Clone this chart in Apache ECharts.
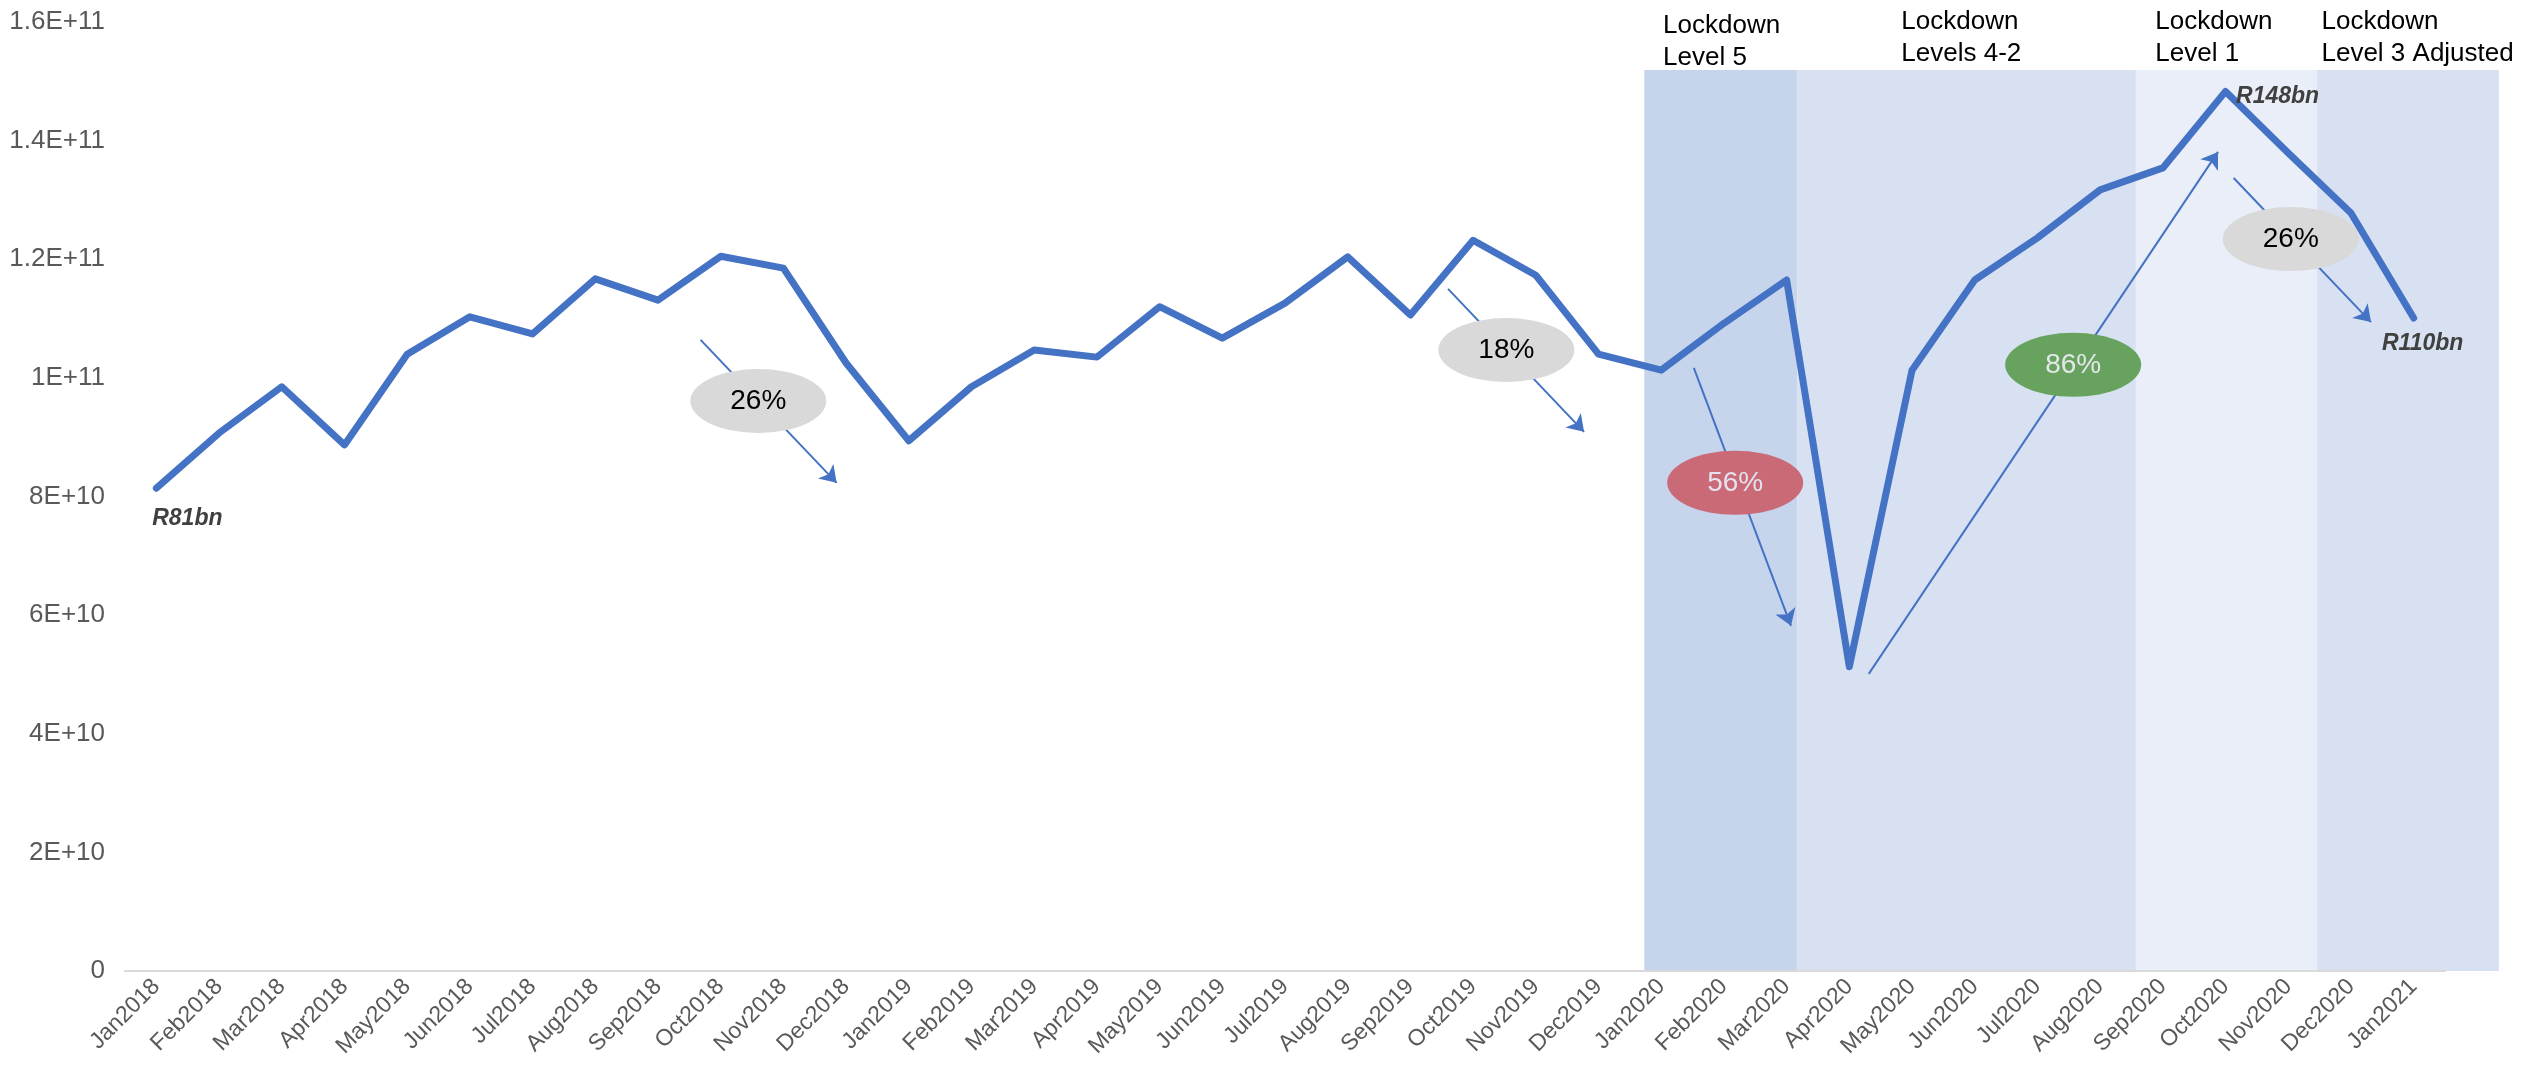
<!DOCTYPE html>
<html><head><meta charset="utf-8">
<script src="https://cdn.jsdelivr.net/npm/echarts@6/dist/echarts.min.js"></script>
<style>html,body{margin:0;padding:0;background:#fff}#c{width:2522px;height:1071px}</style>
</head><body><div id="c"></div>
<script>
// ---- data ----
const months = ['Jan2018','Feb2018','Mar2018','Apr2018','May2018','Jun2018','Jul2018','Aug2018','Sep2018','Oct2018','Nov2018','Dec2018',
  'Jan2019','Feb2019','Mar2019','Apr2019','May2019','Jun2019','Jul2019','Aug2019','Sep2019','Oct2019','Nov2019','Dec2019',
  'Jan2020','Feb2020','Mar2020','Apr2020','May2020','Jun2020','Jul2020','Aug2020','Sep2020','Oct2020','Nov2020','Dec2020','Jan2021'];
// values in billions of Rand
const valuesBn = [81.4,90.7,98.5,88.7,104.0,110.3,107.4,116.7,113.1,120.5,118.5,102.5,
  89.4,98.5,104.7,103.5,112.0,106.7,112.6,120.4,110.6,123.2,117.3,104.0,
  101.3,109.2,116.5,51.3,101.3,116.5,123.6,131.7,135.4,148.3,137.9,127.8,110.1];
const yMax = 160e9, yStep = 20e9;
const labelledIdx = [0, 33, 36];

// lockdown phases (edges in month-index units)
const phaseNames = ['Lockdown\nLevel 5','Lockdown\nLevels 4-2','Lockdown\nLevel 1','Lockdown\nLevel 3 Adjusted'];
const phaseEdges = [23.73, 26.17, 31.57, 34.46, 37.36];
const phaseTopBn = 151.9;
const phaseLabelU = [24.03, 27.83, 31.88, 34.53];
const phaseLabelBn = [162.0, 162.8, 162.8, 162.8];

// change call-outs
const calloutText = ['26%','18%','56%','86%','26%'];
const calloutU = [9.60, 21.53, 25.18, 30.57, 34.04];
const calloutBn = [96.1, 104.7, 82.3, 102.2, 123.4];
const arrowFrom = [[8.68,106.4],[20.60,115.0],[24.52,101.7],[27.31,50.1],[33.13,133.7]];
const arrowTo = [[10.85,82.3],[22.77,90.9],[26.07,58.2],[32.88,138.1],[35.32,109.4]];

// ---- styles ----
const FONT = "'Liberation Sans', Arial, sans-serif";
const BLUE = '#4472C4';
const phaseFill = ['#C6D4EC','#D8E1F2','#E9EEF8','#D8E1F2'];
const calloutFill = ['#D9D9D9','#D9D9D9','#C96A76','#67A25F','#D9D9D9'];
const calloutInk = ['#000000','#000000','#E4E2EE','#E4E6EA','#000000'];
const labelPos = {
  0: {position:'bottom', distance:18, offset:[31,0]},
  33: {position:'right', distance:10, offset:[0,5]},
  36: {position:'bottom', distance:14, offset:[9,0]}
};

function sci(v){
  if (v === 0) return '0';
  const e = Math.floor(Math.log10(v) + 1e-9);
  const m = Math.round(v / Math.pow(10, e) * 10) / 10;
  return m + 'E+' + e;
}

const chart = echarts.init(document.getElementById('c'), null, {renderer:'canvas'});

const lineData = valuesBn.map((v, i) => {
  const item = {value: v * 1e9};
  if (labelledIdx.includes(i)) {
    item.label = Object.assign({
      show: true,
      formatter: 'R' + Math.round(v) + 'bn',
      fontFamily: FONT, fontSize: 23, fontWeight: 'bold', fontStyle: 'italic', color: '#404040'
    }, labelPos[i]);
  }
  return item;
});

const option = {
  animation: false,
  backgroundColor: '#ffffff',
  grid: {left: 125, right: 77, top: 22, bottom: 100, containLabel: false},
  xAxis: [{
    type: 'category', data: months, boundaryGap: true,
    axisLine: {show: true, lineStyle: {color: '#D9D9D9', width: 2}},
    axisTick: {show: false},
    axisLabel: {interval: 0, rotate: 45, margin: 12, fontFamily: FONT, fontSize: 23, color: '#595959'},
    splitLine: {show: false}
  }, {
    type: 'value', min: -0.5, max: 36.5, show: false, position: 'bottom'
  }],
  yAxis: {
    type: 'value', min: 0, max: yMax, interval: yStep,
    axisLine: {show: false}, axisTick: {show: false}, splitLine: {show: false},
    axisLabel: {formatter: sci, margin: 20, fontFamily: FONT, fontSize: 26, color: '#595959'}
  },
  series: [{
    type: 'line', xAxisIndex: 0, yAxisIndex: 0, data: lineData, z: 6,
    symbol: 'circle', symbolSize: 1, showSymbol: true,
    itemStyle: {color: BLUE},
    lineStyle: {color: BLUE, width: 7, join: 'round', cap: 'round'},
    emphasis: {disabled: true}
  }, {
    type: 'lines', coordinateSystem: 'cartesian2d', xAxisIndex: 1, yAxisIndex: 0, z: 3,
    symbol: ['none', 'arrow'], symbolSize: 16,
    lineStyle: {color: BLUE, width: 2, opacity: 1, curveness: 0},
    data: arrowFrom.map((f, i) => ({coords: [[f[0], f[1]*1e9], [arrowTo[i][0], arrowTo[i][1]*1e9]]})),
    emphasis: {disabled: true}
  }, {
    type: 'scatter', xAxisIndex: 1, yAxisIndex: 0, z: 4,
    symbol: 'circle', symbolSize: [136, 64],
    data: calloutU.map((u, i) => ({
      value: [u, calloutBn[i]*1e9],
      itemStyle: {color: calloutFill[i], opacity: 1},
      label: {show: true, position: 'inside', formatter: calloutText[i], fontFamily: FONT, fontSize: 28, color: calloutInk[i]}
    })),
    emphasis: {disabled: true}
  }]
};
chart.setOption(option);

function px(u, bn){ return chart.convertToPixel({xAxisIndex: 1, yAxisIndex: 0}, [u, bn*1e9]); }
const graphics = [];
for (let i = 0; i < phaseNames.length; i++) {
  const a = px(phaseEdges[i], phaseTopBn), b = px(phaseEdges[i+1], 0);
  graphics.push({type: 'rect', z: -10, silent: true,
    shape: {x: a[0], y: a[1], width: b[0]-a[0], height: b[1]-a[1]},
    style: {fill: phaseFill[i]}});
  const t = px(phaseLabelU[i], phaseLabelBn[i]);
  graphics.push({type: 'text', z: 10, silent: true, x: t[0], y: t[1],
    style: {text: phaseNames[i], font: '26px ' + FONT, fill: '#000000', lineHeight: 32, textAlign: 'left', textVerticalAlign: 'top'}});
}
chart.setOption({graphic: graphics});
</script>
</body></html>
